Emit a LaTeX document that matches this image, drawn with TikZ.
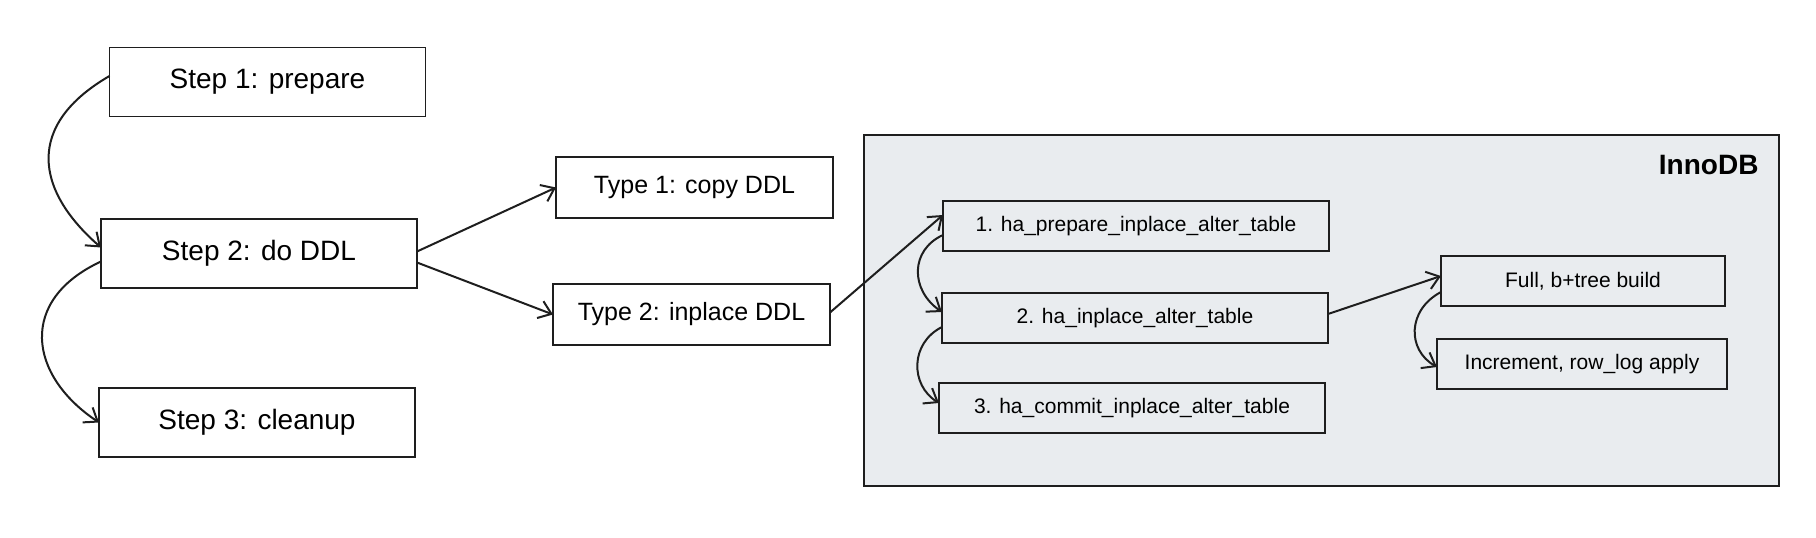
\documentclass[tikz,border=0pt]{standalone}
\usepackage{fontspec}
\setmainfont{Liberation Sans}
\usetikzlibrary{arrows.meta,positioning}

\tikzset{
  box/.style={draw=ink, line width=1.8pt, inner sep=0pt, outer sep=0pt},
  stepbox/.style={box, minimum width=316pt, minimum height=69pt, font=\fontsize{28}{32}\selectfont},
  typebox/.style={box, minimum width=277pt, minimum height=61pt, font=\fontsize{25}{29}\selectfont},
  funcbox/.style={box, minimum width=386pt, minimum height=50pt, font=\fontsize{21}{25}\selectfont},
  buildbox/.style={box, minimum height=50pt, font=\fontsize{21}{25}\selectfont},
  arr/.style={draw=ink, line width=2pt, -{Straight Barb[length=12pt,width=18pt]}}
}
\definecolor{ink}{HTML}{1E1E1E}
\definecolor{engine}{HTML}{E9ECEF}

\begin{document}
\begin{tikzpicture}[x=1pt, y=-1pt]
\useasboundingbox (0,0) rectangle (1816,538);

% storage engine area
\node[box, fill=engine, minimum width=915pt, minimum height=351pt] (innodb) at (1321.5,310.5) {};
\node[anchor=east, font=\fontsize{28}{32}\selectfont\bfseries] (innodblabel) at (1762,165) {InnoDB};

% server side steps
\node[stepbox] (prepare) at (267.5,82) {Step 1: prepare};
\node[stepbox] (doddl) at (259,253.5) {Step 2: do DDL};
\node[stepbox] (cleanup) at (257,422.5) {Step 3: cleanup};

\node[typebox] (copyddl) at (694.5,187.5) {Type 1: copy DDL};
\node[typebox] (inplaceddl) at (691.5,314.5) {Type 2: inplace DDL};

% handler calls
\node[funcbox] (haprepare) at (1136,226) {1. ha\_prepare\_inplace\_alter\_table};
\node[funcbox] (hainplace) at (1135,318) {2. ha\_inplace\_alter\_table};
\node[funcbox] (hacommit) at (1132,408) {3. ha\_commit\_inplace\_alter\_table};

\node[buildbox, minimum width=284pt] (fullbuild) at (1583,281) {Full, b+tree build};
\node[buildbox, minimum width=290pt] (rowlog) at (1582,364) {Increment, row\_log apply};

% connectors
\draw[arr] ([yshift=6pt]prepare.west) .. controls (25,125) and (35,190) .. ([yshift=6pt]doddl.west);
\draw[arr] ([yshift=-8pt]doddl.west) .. controls (18,300) and (28,375) .. (cleanup.west);
\draw[arr] ([yshift=2pt]doddl.east) -- (copyddl.west);
\draw[arr] ([yshift=-9pt]doddl.east) -- (inplaceddl.west);
\draw[arr] ([yshift=2pt]inplaceddl.east) -- ([yshift=11pt]haprepare.west);
\draw[arr] ([yshift=-9pt]haprepare.west) .. controls (910,250) and (910,290) .. ([yshift=6pt]hainplace.west);
\draw[arr] ([yshift=-9pt]hainplace.west) .. controls (910,343) and (910,385) .. ([yshift=5pt]hacommit.west);
\draw[arr] ([yshift=4pt]hainplace.east) -- ([yshift=5pt]fullbuild.west);
\draw[arr] ([yshift=-11pt]fullbuild.west) .. controls (1407,310) and (1407,350) .. ([yshift=-3pt]rowlog.west);
\end{tikzpicture}
\end{document}
